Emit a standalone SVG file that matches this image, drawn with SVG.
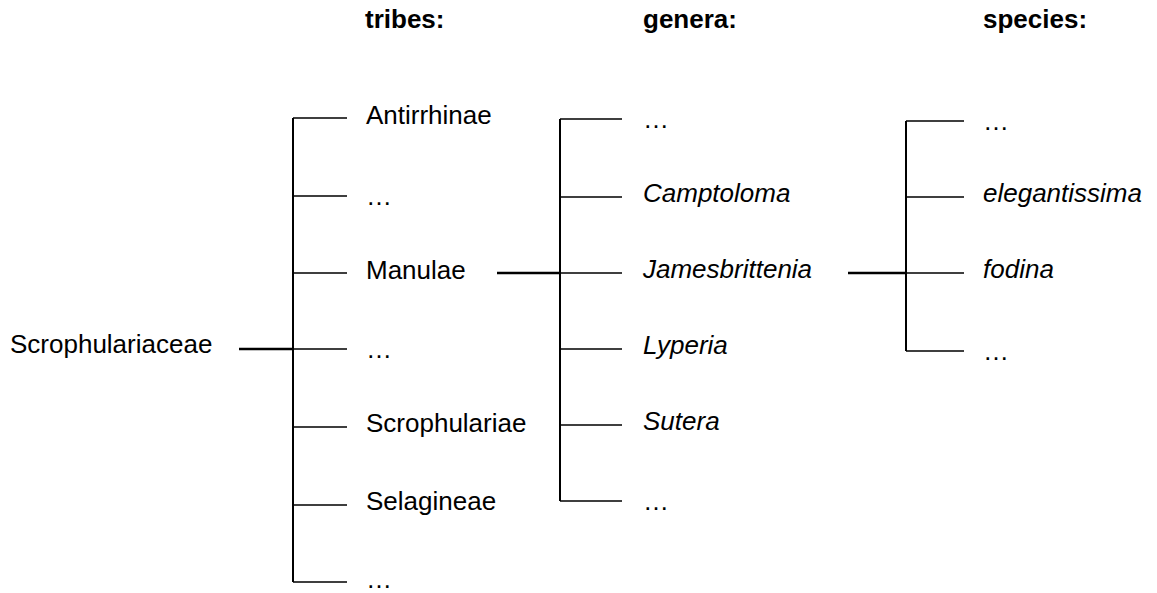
<svg xmlns="http://www.w3.org/2000/svg" width="1157" height="593" viewBox="0 0 1157 593">
<style>
text{font-family:"Liberation Sans",Arial,sans-serif;font-size:26px;fill:#000}
.h{font-weight:bold}
.i{font-style:italic}
.ln{stroke:#000;stroke-width:1.5;fill:none}
.v{stroke:#000;stroke-width:2;fill:none}
.p{stroke:#000;stroke-width:2.5;fill:none}
</style>
<rect width="1157" height="593" fill="#fff"/>
<g id="headers">
<text class="h" x="365" y="28">tribes:</text>
<text class="h" x="643" y="28">genera:</text>
<text class="h" x="983" y="28">species:</text>
</g>
<g id="connectors">
<path class="p" d="M239 349H293"/>
<path class="v" d="M293 118V582"/>
<path class="ln" d="M293 118H347M293 196H347M293 273H347M293 349H347M293 427H347M293 505H347M293 582H347"/>
<path class="p" d="M497 273H560"/>
<path class="v" d="M560 119V501"/>
<path class="ln" d="M560 119H622M560 197H622M560 273H622M560 349H622M560 425H622M560 501H622"/>
<path class="p" d="M848 273H906"/>
<path class="v" d="M906 121V351"/>
<path class="ln" d="M906 121H964M906 197H964M906 273H964M906 351H964"/>
</g>
<g id="root"><text x="10" y="353">Scrophulariaceae</text></g>
<g id="tribes">
<text x="366" y="124">Antirrhinae</text>
<text x="366" y="205">…</text>
<text x="366" y="279">Manulae</text>
<text x="366" y="358">…</text>
<text x="366" y="432">Scrophulariae</text>
<text x="366" y="510">Selagineae</text>
<text x="366" y="588">…</text>
</g>
<g id="genera">
<text x="643" y="128">…</text>
<text class="i" x="643" y="202">Camptoloma</text>
<text class="i" x="643" y="278">Jamesbrittenia</text>
<text class="i" x="643" y="354">Lyperia</text>
<text class="i" x="643" y="430">Sutera</text>
<text x="643" y="510">…</text>
</g>
<g id="species">
<text x="983" y="130">…</text>
<text class="i" x="983" y="202">elegantissima</text>
<text class="i" x="983" y="278">fodina</text>
<text x="983" y="360">…</text>
</g>
</svg>
